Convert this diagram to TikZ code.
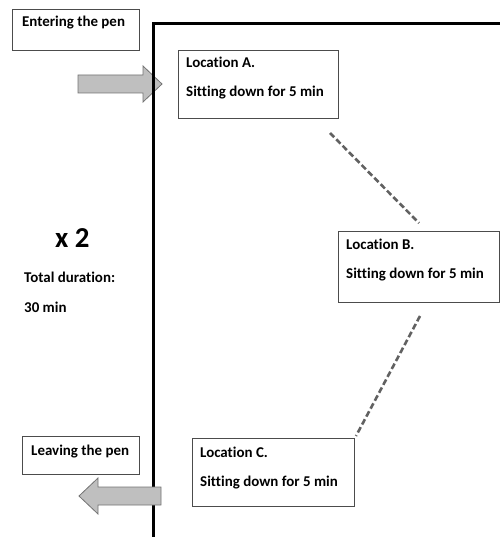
\documentclass[tikz,border=0pt]{standalone}
\usepackage{fontspec}
\setmainfont{Carlito}[Ligatures=NoCommon]
\begin{document}
\begin{tikzpicture}[x=1bp,y=-1bp,
  box/.style={draw=black!70, line width=0.8bp, fill=white, anchor=north west, inner sep=0pt},
  txt/.style={anchor=base west, inner sep=0pt, font=\bfseries\fontsize{15}{18}\selectfont},
  bigarrow/.style={draw=black!55, fill=black!25, line width=0.8bp, line join=miter},
  wall/.style={line width=3bp, line join=miter},
  dashline/.style={draw=black!62, line width=2.6bp, dash pattern=on 6bp off 3bp}]
\useasboundingbox (0,0) rectangle (500,537);
% right arrow (under wall)
\draw[bigarrow] (78,75) -- (143,75) -- (143,66) -- (162,84) -- (143,102) -- (143,93) -- (78,93) -- cycle;
% wall
\draw[wall] (153.5,537) -- (153.5,23.5) -- (500,23.5);
% left arrow (over wall)
\draw[bigarrow] (161,487) -- (98,487) -- (98,478) -- (79,496) -- (98,514) -- (98,505) -- (161,505) -- cycle;
% boxes
\node[box, minimum width=127bp, minimum height=41bp] (enter) at (12,9) {};
\node[txt] (entert) at (22,27) {Entering the pen};
\node[box, minimum width=117bp, minimum height=38bp] (leave) at (22,436) {};
\node[txt] (leavet) at (31,455) {Leaving the pen};
\node[box, minimum width=160bp, minimum height=68bp] (boxA) at (178,50) {};
\node[txt] (a1) at (186,68) {Location A.};
\node[txt] (a2) at (186,97) {Sitting down for 5 min};
\node[box, minimum width=161bp, minimum height=71bp] (boxB) at (338,231) {};
\node[txt] (b1) at (346,249) {Location B.};
\node[txt] (b2) at (346,278) {Sitting down for 5 min};
\node[box, minimum width=162bp, minimum height=68bp] (boxC) at (192,438) {};
\node[txt] (c1) at (200,457) {Location C.};
\node[txt] (c2) at (200,486) {Sitting down for 5 min};
% side texts
\node[anchor=base west, inner sep=0pt, font=\bfseries\fontsize{29}{33}\selectfont] (times) at (55,247) {x 2};
\node[txt] (tot) at (24,282) {Total duration:};
\node[txt] (dur) at (24,312) {30 min};
% dashed connectors
\coordinate (ab1) at (330,133);
\coordinate (ab2) at (419,223);
\coordinate (bc1) at (420,316);
\coordinate (bc2) at (356,436);
\draw[dashline] (ab1) -- (ab2);
\draw[dashline] (bc1) -- (bc2);
\end{tikzpicture}
\end{document}
